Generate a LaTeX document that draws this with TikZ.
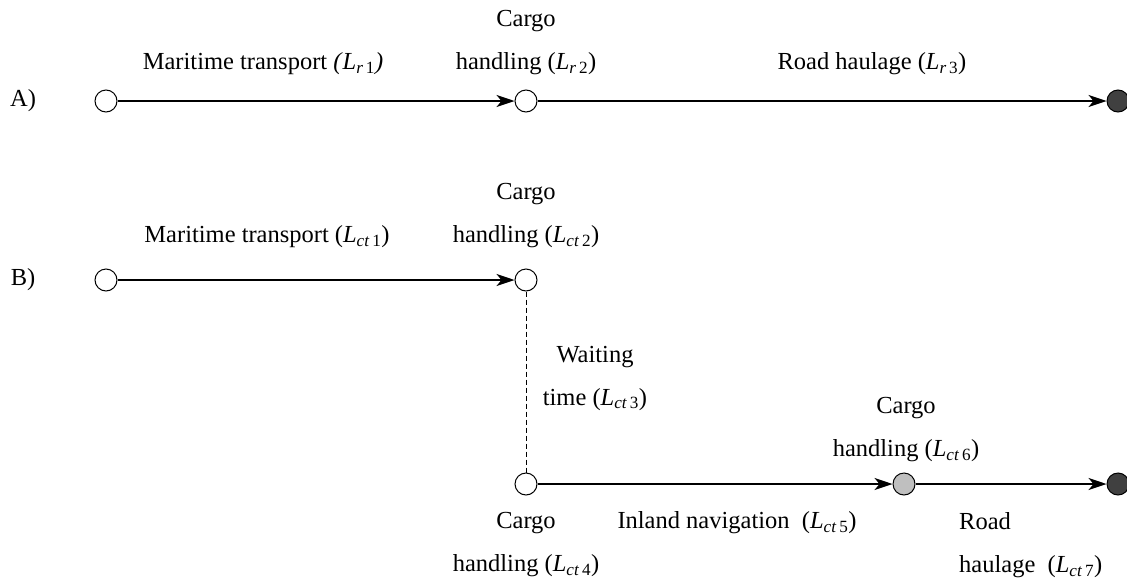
\documentclass[tikz,border=0pt]{standalone}
\usepackage{fontspec}
\setmainfont{Liberation Serif}
\usetikzlibrary{arrows.meta}
\newcommand{\Lsub}[2]{\textit{L}\textsubscript{\textit{#1}\,#2}}
\tikzset{
  stage/.style={circle, draw, line width=1pt, minimum size=22pt, inner sep=0pt, fill=white},
  laststage/.style={stage, fill=black!75},
  graystage/.style={stage, fill=black!25},
  leg/.style={line width=1.3pt, -{Stealth[length=18pt,width=12pt,inset=5pt]}},
  waitleg/.style={line width=1pt, dash pattern=on 5pt off 3pt},
  txt/.style={font=\fontsize{24.5}{43}\selectfont, align=center, inner sep=0pt}
}
\begin{document}
\begin{tikzpicture}[x=1pt,y=-1pt]
\useasboundingbox (0,0) rectangle (1127,584);

% Marking row A
\node[txt] (rowa) at (23,101) {A)};
\node[stage] (a1) at (106,101) {};
\node[stage] (a2) at (526,101) {};
\node[laststage] (a3) at (1118,101) {};

% Drawing segments of row A
\draw[leg] (a1) -- (a2);
\draw[leg] (a2) -- (a3);
\node[txt] (la1) at (263,64) {Maritime transport \textit{(}\Lsub{r}{1}\textit{)}};
\node[txt] (la2) at (526,43) {Cargo\\handling (\Lsub{r}{2})};
\node[txt] (la3) at (872,64) {Road haulage (\Lsub{r}{3})};

% Marking row B
\node[txt] (rowb) at (23,280) {B)};
\node[stage] (b1) at (106,280) {};
\node[stage] (b2) at (526,280) {};
\node[stage] (b4) at (526,484) {};
\node[graystage] (b6) at (904,484) {};
\node[laststage] (b7) at (1118,484) {};

% Drawing segments of row B
\draw[leg] (b1) -- (b2);
\draw[waitleg] (b2) -- (b4);
\draw[leg] (b4) -- (b6);
\draw[leg] (b6) -- (b7);
\node[txt] (lb1) at (267,237) {Maritime transport (\Lsub{ct}{1})};
\node[txt] (lb2) at (526,216) {Cargo\\handling (\Lsub{ct}{2})};
\node[txt] (lb3) at (595,378) {Waiting\\time (\Lsub{ct}{3})};
\node[txt] (lb4) at (526,545) {Cargo\\handling (\Lsub{ct}{4})};
\node[txt] (lb5) at (737,523) {Inland navigation\ \ (\Lsub{ct}{5})};
\node[txt] (lb6) at (906,430) {Cargo\\handling (\Lsub{ct}{6})};
\node[txt, align=left, anchor=west] (lb7) at (959,545) {Road\\haulage\ \ (\Lsub{ct}{7})};
\end{tikzpicture}
\end{document}
